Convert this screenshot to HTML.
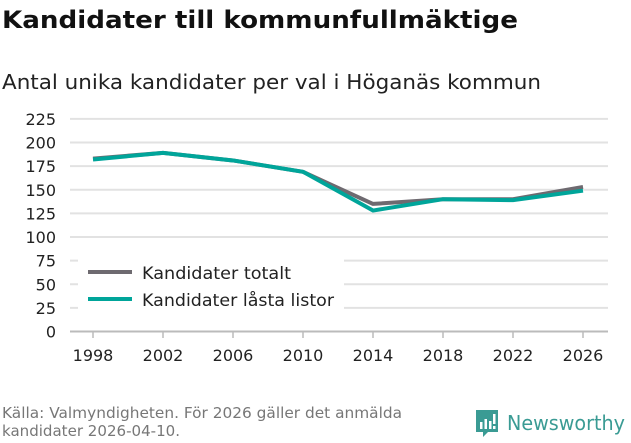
<!DOCTYPE html>
<html><head><meta charset="utf-8"><style>
body{margin:0;background:#fff;font-family:"DejaVu Sans","Liberation Sans",sans-serif;}
svg text{font-family:"DejaVu Sans","Liberation Sans",sans-serif;}
</style></head><body>
<svg width="631" height="439" viewBox="0 0 631 439" xmlns="http://www.w3.org/2000/svg">
<text x="2" y="28" font-size="24" font-weight="bold" fill="#111" textLength="516" lengthAdjust="spacingAndGlyphs">Kandidater till kommunfullmäktige</text>
<text x="2" y="89" font-size="20" fill="#222" textLength="539" lengthAdjust="spacingAndGlyphs">Antal unika kandidater per val i Höganäs kommun</text>
<g id="grid"></g><g id="ylabels"></g><g id="xlabels"></g><g id="series"></g>
<g>
<rect x="78" y="258" width="266" height="60" fill="#fff"/>
<line x1="88" y1="272" x2="132" y2="272" stroke="#6e6a70" stroke-width="4"/>
<text x="142" y="279" font-size="17" fill="#222" textLength="149" lengthAdjust="spacingAndGlyphs">Kandidater totalt</text>
<line x1="88" y1="299" x2="132" y2="299" stroke="#00a59a" stroke-width="4"/>
<text x="142" y="306" font-size="17" fill="#222" textLength="192" lengthAdjust="spacingAndGlyphs">Kandidater låsta listor</text>
</g>
<text font-size="15" fill="#777"><tspan x="2" y="418" textLength="400" lengthAdjust="spacingAndGlyphs">Källa: Valmyndigheten. För 2026 gäller det anmälda</tspan><tspan x="2" y="436" textLength="178" lengthAdjust="spacingAndGlyphs">kandidater 2026-04-10.</tspan></text>
<g>
<path d="M476 410h22v22h-10l-5 5v-5h-7z" fill="#3a9b94"/>
<rect x="480" y="422" width="2.5" height="7" fill="#fff"/><rect x="484.5" y="419" width="2.5" height="10" fill="#fff"/><rect x="489" y="421" width="2.5" height="8" fill="#fff"/><rect x="493" y="414" width="2.5" height="10" fill="#fff"/><rect x="493" y="426" width="2.5" height="3" fill="#fff"/>
<text x="507" y="430" font-size="20" fill="#3a9b94" textLength="118" lengthAdjust="spacingAndGlyphs">Newsworthy</text>
</g>
</svg>
<script>
const years=[1998,2002,2006,2010,2014,2018,2022,2026];
const totalt=[183,189,181,169,135,140,140,153];
const lasta=[182,189,181,169,128,140,139,149];
const yTicks=[0,25,50,75,100,125,150,175,200,225];
const NS="http://www.w3.org/2000/svg";
const x=v=>93+(v-1998)*17.5;
const y=v=>331.5-v*0.945;
function mk(tag,attrs,parent,txt){const e=document.createElementNS(NS,tag);for(const k in attrs)e.setAttribute(k,attrs[k]);if(txt!==undefined)e.textContent=txt;document.getElementById(parent).appendChild(e);return e;}
yTicks.forEach(t=>{
 const l=mk('line',{x1:70,x2:608,y1:y(t),y2:y(t),stroke:t===0?'#bbb':'#e2e2e2','stroke-width':2},'grid');
 
 
 const tx=mk('text',{x:56,y:y(t)+6,'font-size':16,fill:'#222','text-anchor':'end'},'ylabels',t);
 
 
});
years.forEach(yr=>{
 const tk=mk('line',{x1:x(yr),x2:x(yr),y1:331,y2:338,stroke:'#bbb','stroke-width':1.5},'xlabels');
 
 
 const tx=mk('text',{x:x(yr),y:361,'font-size':16,fill:'#222','text-anchor':'middle'},'xlabels',yr);
 
 
});
function line(vals,color,name){
 const p=mk('polyline',{points:vals.map((v,i)=>x(years[i])+','+y(v)).join(' '),fill:'none',stroke:color,'stroke-width':4,'stroke-linejoin':'round'},'series');
 
 
}
line(totalt,'#6e6a70','series-totalt');
line(lasta,'#00a59a','series-lasta');
</script>
</body></html>
